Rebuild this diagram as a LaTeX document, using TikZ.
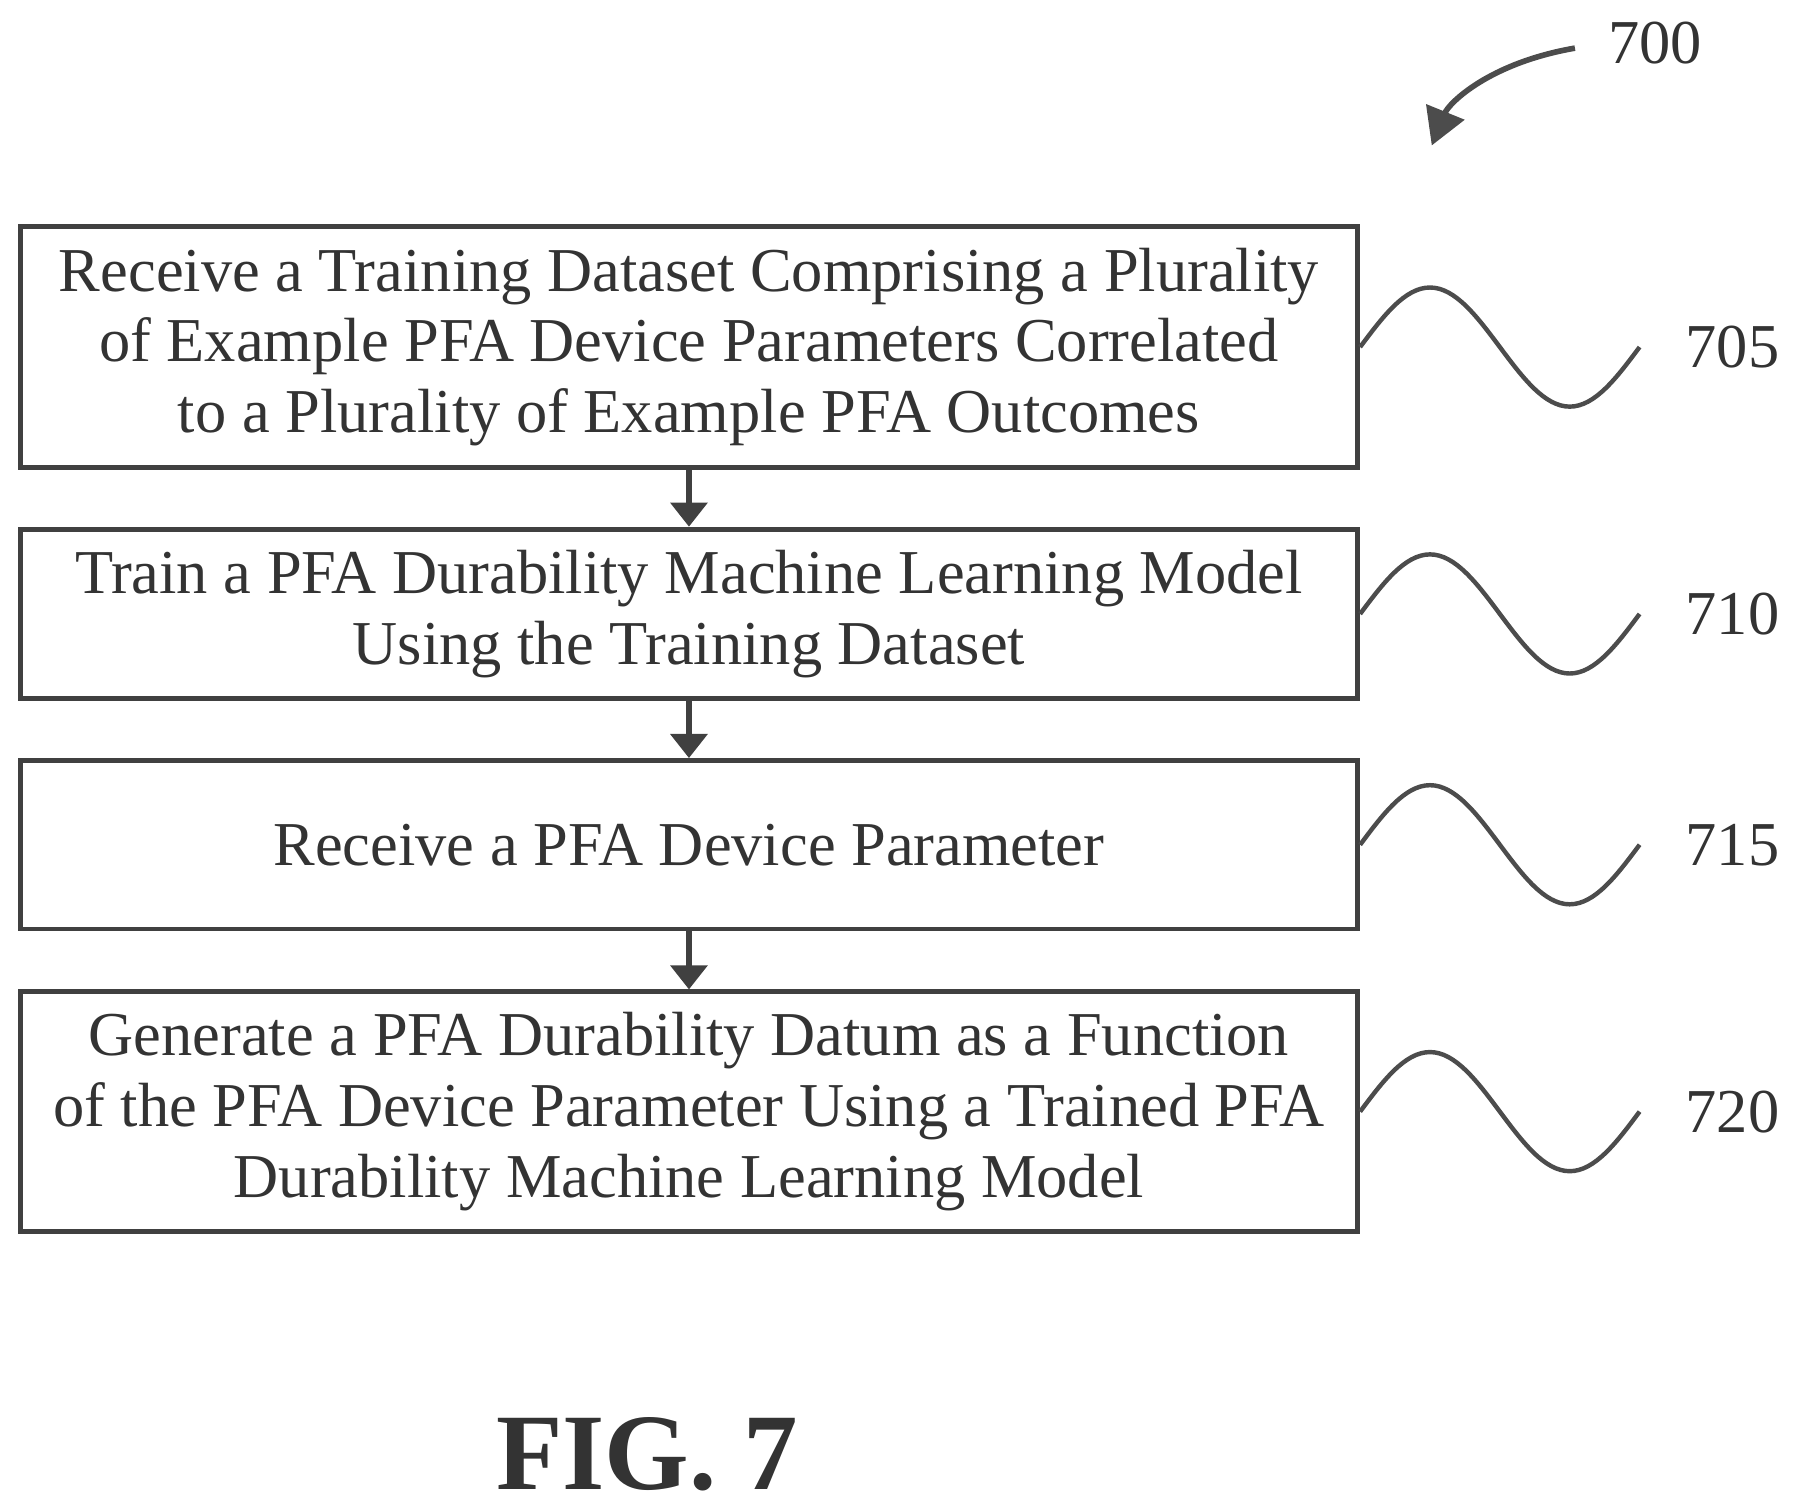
\documentclass[tikz,border=0pt]{standalone}
\usepackage{fontspec}
\setmainfont{Liberation Serif}
\usetikzlibrary{arrows.meta}
\begin{document}
\begin{tikzpicture}[x=0.01cm,y=-0.01cm,
  box/.style={draw=black!75,line width=1.2pt,minimum width=11.67cm,align=center,inner sep=0pt,
    font=\fontsize{15.5pt}{17.6pt}\selectfont,text=black!80},
  arr/.style={draw=black!75,line width=1.6pt,-{Triangle[width=9pt,length=6pt]}},
  wave/.style={draw=black!70,line width=1.1pt},
  lab/.style={font=\fontsize{15.5pt}{17.6pt}\selectfont,text=black!80}]
\useasboundingbox (0,0) rectangle (1568,1317);
\node[box,minimum height=2.10cm] (b1) at (601.5,303) {Receive a Training Dataset Comprising a Plurality\\of Example PFA Device Parameters Correlated\\to a Plurality of Example PFA Outcomes};
\node[box,minimum height=1.48cm] (b2) at (601.5,536) {Train a PFA Durability Machine Learning Model\\Using the Training Dataset};
\node[box,minimum height=1.47cm] (b3) at (601.5,737.5) {Receive a PFA Device Parameter};
\node[box,minimum height=2.09cm] (b4) at (601.5,970.5) {Generate a PFA Durability Datum as a Function\\of the PFA Device Parameter Using a Trained PFA\\Durability Machine Learning Model};
\draw[arr] (b1) -- (b2);
\draw[arr] (b2) -- (b3);
\draw[arr] (b3) -- (b4);
\foreach \b/\n in {b1/705,b2/710,b3/715,b4/720}{
  \draw[wave] (\b.east) sin ++(61,-52) cos ++(61,52) sin ++(61,52) cos ++(61,-52);
  \node[lab] (l\n) at ([xshift=3.25cm]\b.east) {\n};
}
\node[lab] (l700) at (1445,38) {700};
\coordinate (a0) at (1375,42);
\draw[wave,line width=1.4pt,-{Triangle[width=10pt,length=9pt]}] (a0) .. controls (1300,55) and (1265,90) .. (1250,127);
\node[font=\fontsize{27pt}{30pt}\selectfont\bfseries,text=black!80] (fig) at (565,1270) {FIG. 7};
\end{tikzpicture}
\end{document}
